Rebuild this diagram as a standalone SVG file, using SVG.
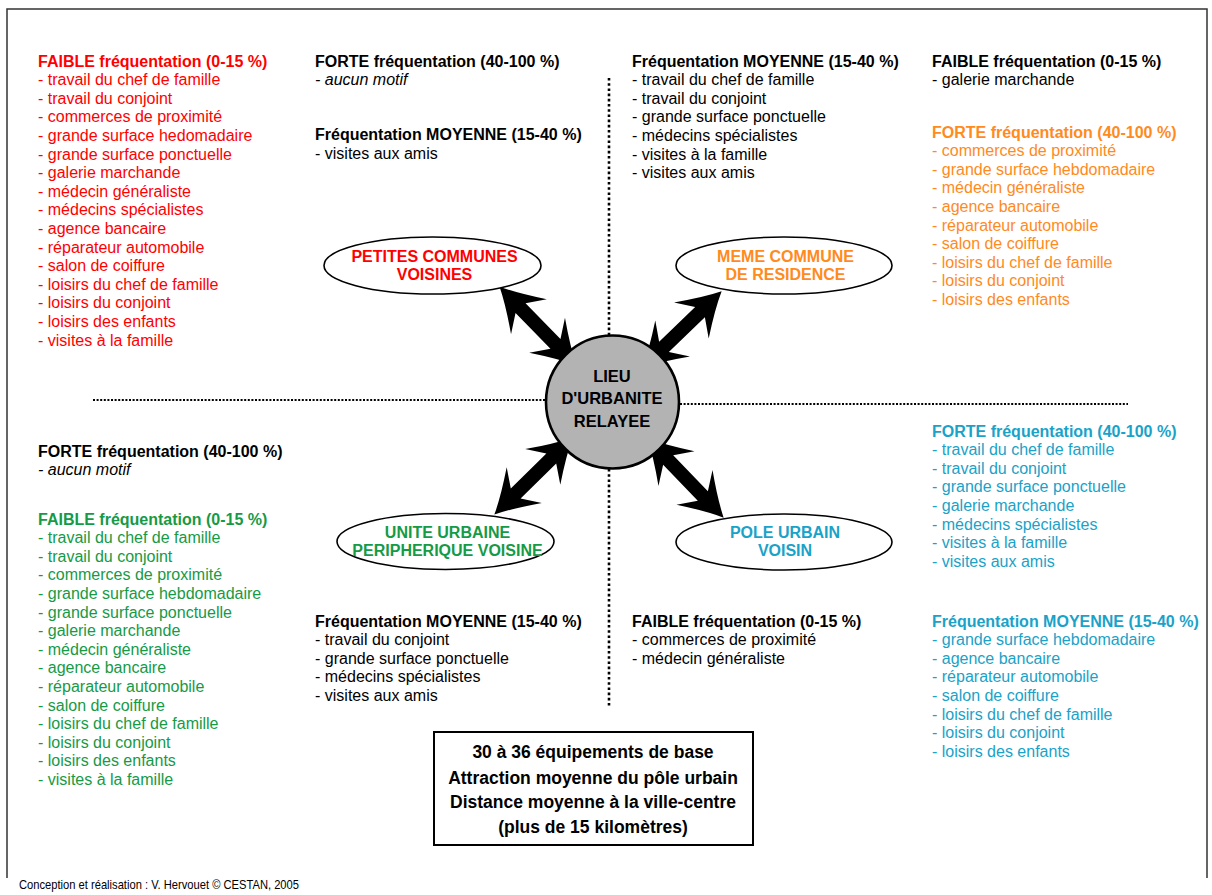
<svg xmlns="http://www.w3.org/2000/svg" width="1212" height="895" viewBox="0 0 1212 895">
<style>
text{font-family:"Liberation Sans",Arial,sans-serif;font-size:16px}
.b{font-weight:bold}
.i{font-style:italic}
.k{fill:#000}
.red{fill:#FF0000}
.org{fill:#FF8A1E}
.grn{fill:#169A46}
.cyn{fill:#1AA2C8}
.ell{fill:#fff;stroke:#000;stroke-width:1.6}
.lbl{font-weight:bold;text-anchor:middle}
.dotv{stroke:#000;stroke-width:2.6;stroke-dasharray:2.6 2.6;fill:none}
.doth{stroke:#000;stroke-width:2.2;stroke-dasharray:2 1.6;fill:none}
.arr{fill:#000}
.box{font-weight:bold;font-size:17.5px;text-anchor:middle}
</style>
<defs>
<path id="dbl" d="M-55,0 Q-38,-8 -13,-25 L-25,-7 L25,-7 L13,-25 Q38,-8 55,0 Q38,8 13,25 L25,7 L-25,7 L-13,25 Q-38,8 -55,0 Z"/>
</defs>
<rect width="1212" height="895" fill="#fff"/>
<path d="M7,878 V9 H1207 V878" fill="none" stroke="#333" stroke-width="1.5"/>

<g id="separators">
<line class="dotv" x1="609" y1="78" x2="609" y2="335"/>
<line class="dotv" x1="609" y1="469" x2="609" y2="708"/>
<line class="doth" x1="93" y1="400" x2="546" y2="400"/>
<line class="doth" x1="680" y1="404" x2="1128" y2="404"/>
</g>

<g id="connectors">
<use href="#dbl" class="arr" transform="translate(538,326) rotate(45.7)"/>
<use href="#dbl" class="arr" transform="translate(682,329.5) rotate(-43.9)"/>
<use href="#dbl" class="arr" transform="translate(533.5,476) rotate(-44.6)"/>
<use href="#dbl" class="arr" transform="translate(685.5,478) rotate(46.1)"/>
</g>

<g id="center">
<circle cx="612.5" cy="402" r="66.5" fill="#B3B3B3" stroke="#000" stroke-width="2.6"/>
<text class="lbl k" style="font-size:16.5px" x="612" y="382">LIEU</text>
<text class="lbl k" style="font-size:16.5px" x="612" y="404">D'URBANITE</text>
<text class="lbl k" style="font-size:16.5px" x="612" y="427">RELAYEE</text>
</g>

<g id="petites-communes">
<ellipse class="ell" cx="432.5" cy="265.5" rx="108.5" ry="28.5"/>
<text class="lbl red" x="434.5" y="262">PETITES COMMUNES</text>
<text class="lbl red" x="434.5" y="280">VOISINES</text>
</g>
<g id="meme-commune">
<ellipse class="ell" cx="784" cy="265.5" rx="108" ry="28.5"/>
<text class="lbl org" x="785.5" y="262">MEME COMMUNE</text>
<text class="lbl org" x="785.5" y="280">DE RESIDENCE</text>
</g>
<g id="unite-urbaine">
<ellipse class="ell" cx="445.5" cy="541.5" rx="108.5" ry="28"/>
<text class="lbl grn" x="447.5" y="538">UNITE URBAINE</text>
<text class="lbl grn" x="447.5" y="556">PERIPHERIQUE VOISINE</text>
</g>
<g id="pole-urbain">
<ellipse class="ell" cx="784" cy="542" rx="108" ry="28"/>
<text class="lbl cyn" x="785" y="538">POLE URBAIN</text>
<text class="lbl cyn" x="785" y="556">VOISIN</text>
</g>

<g id="list-top-left">
<text class="red"><tspan class="b" x="38" y="66.5">FAIBLE fréquentation (0-15 %)</tspan><tspan x="38" dy="18.6">- travail du chef de famille</tspan><tspan x="38" dy="18.6">- travail du conjoint</tspan><tspan x="38" dy="18.6">- commerces de proximité</tspan><tspan x="38" dy="18.6">- grande surface hedomadaire</tspan><tspan x="38" dy="18.6">- grande surface ponctuelle</tspan><tspan x="38" dy="18.6">- galerie marchande</tspan><tspan x="38" dy="18.6">- médecin généraliste</tspan><tspan x="38" dy="18.6">- médecins spécialistes</tspan><tspan x="38" dy="18.6">- agence bancaire</tspan><tspan x="38" dy="18.6">- réparateur automobile</tspan><tspan x="38" dy="18.6">- salon de coiffure</tspan><tspan x="38" dy="18.6">- loisirs du chef de famille</tspan><tspan x="38" dy="18.6">- loisirs du conjoint</tspan><tspan x="38" dy="18.6">- loisirs des enfants</tspan><tspan x="38" dy="18.6">- visites à la famille</tspan></text>
</g>

<g id="list-top-mid-left">
<text class="k"><tspan class="b" x="315" y="66.5">FORTE fréquentation (40-100 %)</tspan><tspan class="i" x="315" dy="18.6">- aucun motif</tspan><tspan class="b" x="315" dy="55.2">Fréquentation MOYENNE (15-40 %)</tspan><tspan x="315" dy="18.6">- visites aux amis</tspan></text>
</g>

<g id="list-top-mid-right">
<text class="k"><tspan class="b" x="632" y="66.5">Fréquentation MOYENNE (15-40 %)</tspan><tspan x="632" dy="18.6">- travail du chef de famille</tspan><tspan x="632" dy="18.6">- travail du conjoint</tspan><tspan x="632" dy="18.6">- grande surface ponctuelle</tspan><tspan x="632" dy="18.6">- médecins spécialistes</tspan><tspan x="632" dy="18.6">- visites à la famille</tspan><tspan x="632" dy="18.6">- visites aux amis</tspan></text>
</g>

<g id="list-top-right">
<text class="k"><tspan class="b" x="932" y="66.5">FAIBLE fréquentation (0-15 %)</tspan><tspan x="932" dy="18.6">- galerie marchande</tspan></text>
<text class="org"><tspan class="b" x="932" y="137.5">FORTE fréquentation (40-100 %)</tspan><tspan x="932" dy="18.6">- commerces de proximité</tspan><tspan x="932" dy="18.6">- grande surface hebdomadaire</tspan><tspan x="932" dy="18.6">- médecin généraliste</tspan><tspan x="932" dy="18.6">- agence bancaire</tspan><tspan x="932" dy="18.6">- réparateur automobile</tspan><tspan x="932" dy="18.6">- salon de coiffure</tspan><tspan x="932" dy="18.6">- loisirs du chef de famille</tspan><tspan x="932" dy="18.6">- loisirs du conjoint</tspan><tspan x="932" dy="18.6">- loisirs des enfants</tspan></text>
</g>

<g id="list-bottom-left">
<text class="k"><tspan class="b" x="38" y="456.5">FORTE fréquentation (40-100 %)</tspan><tspan class="i" x="38" dy="18.6">- aucun motif</tspan></text>
<text class="grn"><tspan class="b" x="38" y="524.5">FAIBLE fréquentation (0-15 %)</tspan><tspan x="38" dy="18.6">- travail du chef de famille</tspan><tspan x="38" dy="18.6">- travail du conjoint</tspan><tspan x="38" dy="18.6">- commerces de proximité</tspan><tspan x="38" dy="18.6">- grande surface hebdomadaire</tspan><tspan x="38" dy="18.6">- grande surface ponctuelle</tspan><tspan x="38" dy="18.6">- galerie marchande</tspan><tspan x="38" dy="18.6">- médecin généraliste</tspan><tspan x="38" dy="18.6">- agence bancaire</tspan><tspan x="38" dy="18.6">- réparateur automobile</tspan><tspan x="38" dy="18.6">- salon de coiffure</tspan><tspan x="38" dy="18.6">- loisirs du chef de famille</tspan><tspan x="38" dy="18.6">- loisirs du conjoint</tspan><tspan x="38" dy="18.6">- loisirs des enfants</tspan><tspan x="38" dy="18.6">- visites à la famille</tspan></text>
</g>

<g id="list-bottom-mid-left">
<text class="k"><tspan class="b" x="315" y="626.5">Fréquentation MOYENNE (15-40 %)</tspan><tspan x="315" dy="18.6">- travail du conjoint</tspan><tspan x="315" dy="18.6">- grande surface ponctuelle</tspan><tspan x="315" dy="18.6">- médecins spécialistes</tspan><tspan x="315" dy="18.6">- visites aux amis</tspan></text>
</g>

<g id="list-bottom-mid-right">
<text class="k"><tspan class="b" x="632" y="626.5">FAIBLE fréquentation (0-15 %)</tspan><tspan x="632" dy="18.6">- commerces de proximité</tspan><tspan x="632" dy="18.6">- médecin généraliste</tspan></text>
</g>

<g id="list-bottom-right">
<text class="cyn"><tspan class="b" x="932" y="436.5">FORTE fréquentation (40-100 %)</tspan><tspan x="932" dy="18.6">- travail du chef de famille</tspan><tspan x="932" dy="18.6">- travail du conjoint</tspan><tspan x="932" dy="18.6">- grande surface ponctuelle</tspan><tspan x="932" dy="18.6">- galerie marchande</tspan><tspan x="932" dy="18.6">- médecins spécialistes</tspan><tspan x="932" dy="18.6">- visites à la famille</tspan><tspan x="932" dy="18.6">- visites aux amis</tspan></text>
<text class="cyn"><tspan class="b" x="932" y="626.5">Fréquentation MOYENNE (15-40 %)</tspan><tspan x="932" dy="18.6">- grande surface hebdomadaire</tspan><tspan x="932" dy="18.6">- agence bancaire</tspan><tspan x="932" dy="18.6">- réparateur automobile</tspan><tspan x="932" dy="18.6">- salon de coiffure</tspan><tspan x="932" dy="18.6">- loisirs du chef de famille</tspan><tspan x="932" dy="18.6">- loisirs du conjoint</tspan><tspan x="932" dy="18.6">- loisirs des enfants</tspan></text>
</g>

<g id="summary-box">
<rect x="434" y="732" width="319" height="113" fill="#fff" stroke="#000" stroke-width="2"/>
<text class="box k" x="593" y="758">30 à 36 équipements de base</text>
<text class="box k" x="593" y="783.5">Attraction moyenne du pôle urbain</text>
<text class="box k" x="593" y="808">Distance moyenne à la ville-centre</text>
<text class="box k" x="593" y="833">(plus de 15 kilomètres)</text>
</g>

<g id="footer">
<text class="k" x="19" y="889" style="font-size:12.8px" textLength="280" lengthAdjust="spacingAndGlyphs">Conception et réalisation : V. Hervouet © CESTAN, 2005</text>
</g>
</svg>
